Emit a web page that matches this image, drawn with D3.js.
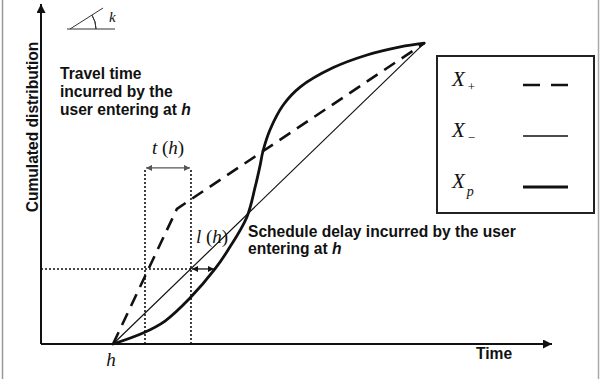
<!DOCTYPE html>
<html>
<head>
<meta charset="utf-8">
<script src="https://cdn.jsdelivr.net/npm/d3@7"></script>
<style>
  body { margin: 0; background: #fff; }
  .lab { font-family: "Liberation Sans", Arial, sans-serif; font-weight: bold; font-size: 15.6px; fill: #111; }
  .math { font-family: "Liberation Serif", "Times New Roman", serif; fill: #111; }
</style>
</head>
<body>
<script>
// data (time on x, cumulated share on y, both in 0..100 units)
var hTime = 14.1;
var xMinus = [[14.1, 0], [75, 89]];
var xPlus = [[14.1, 0], [26.6, 40], [75, 89]];
var xP = [[14.1, 0], [19.96, 3.25], [24.27, 6.8], [29.16, 13.6], [34.05, 22.2], [36.6, 27.8],
          [40.3, 37.6], [41.9, 46.4], [42.9, 53], [43.4, 56.8], [44.8, 63.3], [47.4, 70.7],
          [50.7, 76], [57.1, 81.7], [63.8, 85.5], [70.3, 87.9], [75, 89]];
var tWindow = [20.35, 29.35];   // entry and exit of user h
var userLevel = 22.2;           // cumulated share at h
var windowTop = 52.1;
var lEnd = 34.05;
var legendKeys = ["+", "\u2212", "p"];

var W = 601, H = 379;
var x = d3.scaleLinear().domain([0, 100]).range([41, 552]);
var y = d3.scaleLinear().domain([0, 100]).range([344, 6]);

var svg = d3.select("body").append("svg")
    .attr("width", W)
    .attr("height", H);

var defs = svg.append("defs");
function marker(id, color, w) {
  defs.append("marker")
      .attr("id", id)
      .attr("viewBox", "0 0 10 10")
      .attr("refX", 10).attr("refY", 5)
      .attr("markerWidth", w).attr("markerHeight", w)
      .attr("markerUnits", "userSpaceOnUse")
      .attr("orient", "auto-start-reverse")
    .append("path")
      .attr("d", "M0,0L10,5L0,10z")
      .attr("fill", color);
}
marker("axArrow", "#111", 9);
marker("smArrow", "#111", 6);
marker("grArrow", "#555", 6);

// frame lines
svg.append("line").attr("x1", 2.5).attr("x2", 2.5).attr("y1", 0).attr("y2", H)
    .attr("stroke", "#999").attr("stroke-width", 1.5);
svg.append("line").attr("x1", 598.5).attr("x2", 598.5).attr("y1", 0).attr("y2", H)
    .attr("stroke", "#aaa").attr("stroke-width", 1.5);

// axes
svg.append("line")
    .attr("x1", x(0)).attr("y1", y(0)).attr("x2", x(0)).attr("y2", y(100) - 2)
    .attr("stroke", "#111").attr("stroke-width", 2)
    .attr("marker-end", "url(#axArrow)");
svg.append("line")
    .attr("x1", x(0)).attr("y1", y(0)).attr("x2", x(100)).attr("y2", y(0))
    .attr("stroke", "#111").attr("stroke-width", 2)
    .attr("marker-end", "url(#axArrow)");

// dotted guides
var dot = "2,2";
tWindow.forEach(function(t) {
  svg.append("line")
      .attr("x1", x(t)).attr("x2", x(t)).attr("y1", y(0)).attr("y2", y(windowTop))
      .attr("stroke", "#111").attr("stroke-width", 1.6).attr("stroke-dasharray", dot);
});
svg.append("line")
    .attr("x1", x(0)).attr("x2", x(tWindow[1])).attr("y1", y(userLevel)).attr("y2", y(userLevel))
    .attr("stroke", "#111").attr("stroke-width", 1.6).attr("stroke-dasharray", dot);

// t(h) and l(h) arrows
svg.append("line")
    .attr("x1", x(tWindow[0]) + 1).attr("x2", x(tWindow[1]) - 1)
    .attr("y1", y(windowTop)).attr("y2", y(windowTop))
    .attr("stroke", "#555").attr("stroke-width", 1.3)
    .attr("marker-start", "url(#grArrow)").attr("marker-end", "url(#grArrow)");
svg.append("line")
    .attr("x1", x(tWindow[1]) + 1).attr("x2", x(lEnd) - 1)
    .attr("y1", y(userLevel)).attr("y2", y(userLevel))
    .attr("stroke", "#111").attr("stroke-width", 1.3)
    .attr("marker-start", "url(#smArrow)").attr("marker-end", "url(#smArrow)");

// curves
var line = d3.line().x(function(d) { return x(d[0]); }).y(function(d) { return y(d[1]); });
svg.append("path").datum(xMinus)
    .attr("d", line).attr("fill", "none").attr("stroke", "#111").attr("stroke-width", 1.2);
svg.append("path").datum(xPlus)
    .attr("d", line).attr("fill", "none").attr("stroke", "#111").attr("stroke-width", 2.6)
    .attr("stroke-dasharray", "13,8");
svg.append("path").datum(xP)
    .attr("d", line.curve(d3.curveCatmullRom.alpha(0.5)))
    .attr("fill", "none").attr("stroke", "#111").attr("stroke-width", 2.8)
    .attr("stroke-linecap", "round");

// angle symbol k
var ang = svg.append("g");
ang.append("line").attr("x1", 67).attr("x2", 115).attr("y1", 29).attr("y2", 29)
    .attr("stroke", "#333").attr("stroke-width", 1);
ang.append("line").attr("x1", 70).attr("x2", 103).attr("y1", 29).attr("y2", 8)
    .attr("stroke", "#333").attr("stroke-width", 1);
ang.append("path")
    .attr("d", d3.arc()({innerRadius: 26, outerRadius: 26, startAngle: Math.PI / 2 - 0.56, endAngle: Math.PI / 2}))
    .attr("transform", "translate(70,29)")
    .attr("fill", "none").attr("stroke", "#333").attr("stroke-width", 1);
svg.append("text").attr("class", "math").attr("x", 109).attr("y", 22)
    .attr("font-size", 15).attr("font-style", "italic").text("k");

// axis labels
svg.append("text").attr("class", "lab")
    .attr("transform", "translate(38,127) rotate(-90)")
    .attr("text-anchor", "middle").text("Cumulated distribution");
svg.append("text").attr("class", "lab").attr("x", 476).attr("y", 359).text("Time");
svg.append("text").attr("class", "math").attr("x", x(hTime) - 2).attr("y", 366)
    .attr("text-anchor", "middle").attr("font-size", 19).attr("font-style", "italic").text("h");

// annotations
function boldLines(x0, y0, lines, dy) {
  lines.forEach(function(l, i) {
    var t = svg.append("text").attr("class", "lab").attr("x", x0).attr("y", y0 + i * dy);
    t.append("tspan").text(l[0]);
    if (l[1]) t.append("tspan").attr("font-style", "italic").text(l[1]);
  });
}
boldLines(60, 79, [["Travel time"], ["incurred by the"], ["user entering at ", "h"]], 18);
boldLines(248, 237, [["Schedule delay incurred by the user"], ["entering at ", "h"]], 17);

function fnLabel(cx, by, f) {
  var t = svg.append("text").attr("class", "math").attr("x", cx).attr("y", by)
      .attr("text-anchor", "middle").attr("font-size", 19);
  t.append("tspan").attr("font-style", "italic").text(f);
  t.append("tspan").text(" (");
  t.append("tspan").attr("font-style", "italic").text("h");
  t.append("tspan").text(")");
}
fnLabel((x(tWindow[0]) + x(tWindow[1])) / 2, 154, "t");
fnLabel(212, 243, "l");

// legend
var lg = svg.append("g");
lg.append("rect").attr("x", 437).attr("y", 56).attr("width", 157).attr("height", 157)
    .attr("fill", "none").attr("stroke", "#222").attr("stroke-width", 2);
var styles = [{w: 2.4, dash: "17,11"}, {w: 1.5, dash: null}, {w: 3.2, dash: null}];
legendKeys.forEach(function(k, i) {
  var by = 86 + i * 51;
  var t = lg.append("text").attr("class", "math").attr("x", 452).attr("y", by)
      .attr("font-size", 21);
  t.append("tspan").attr("font-style", "italic").text("X");
  var sub = t.append("tspan").attr("font-size", i === 2 ? 14 : 13)
      .attr("dx", i === 2 ? 2 : 3).attr("dy", i === 2 ? 8 : 5).text(k);
  if (i === 2) sub.attr("font-style", "italic");
  lg.append("line").attr("x1", 523).attr("x2", 568).attr("y1", by - 1).attr("y2", by - 1)
      .attr("stroke", "#111").attr("stroke-width", styles[i].w)
      .attr("stroke-dasharray", styles[i].dash);
});
</script>
</body>
</html>
